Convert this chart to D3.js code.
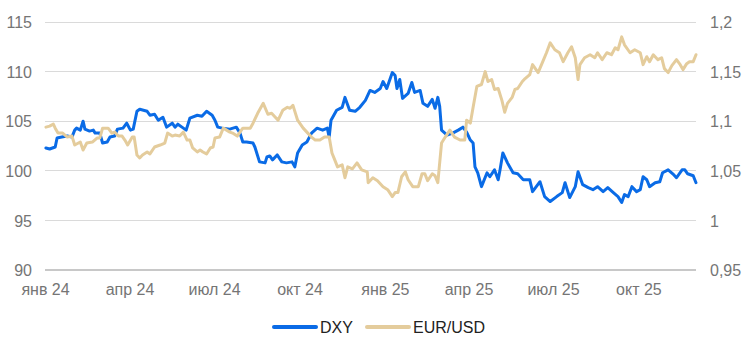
<!DOCTYPE html>
<html><head><meta charset="utf-8">
<script src="https://cdn.jsdelivr.net/npm/d3@7"></script>
<style>
html,body{margin:0;padding:0;background:#fff;}
svg{display:block;font-family:"Liberation Sans",Arial,sans-serif;}
</style></head>
<body><svg id="chart" width="746" height="355"></svg>
<script>
// ---- data ----
const seriesNames = ["DXY", "EUR/USD"];
const leftTicks = [90, 95, 100, 105, 110, 115];
const rightTicks = [0.95, 1.0, 1.05, 1.1, 1.15, 1.2];
const xTickDates = ["2024-01-01","2024-04-01","2024-07-01","2024-10-01","2025-01-01","2025-04-01","2025-07-01","2025-10-01"];
const xTickLabels = ["янв 24","апр 24","июл 24","окт 24","янв 25","апр 25","июл 25","окт 25"];
const xDomain = ["2024-01-01","2025-12-02"];

const dxyDates = ["2024-01-02","2024-01-06","2024-01-12","2024-01-14","2024-01-19","2024-01-25","2024-01-30","2024-02-02","2024-02-04","2024-02-08","2024-02-11","2024-02-13","2024-02-18","2024-02-22","2024-02-24","2024-02-29","2024-03-03","2024-03-08","2024-03-11","2024-03-16","2024-03-19","2024-03-25","2024-03-29","2024-04-02","2024-04-05","2024-04-09","2024-04-12","2024-04-20","2024-04-23","2024-04-28","2024-05-02","2024-05-07","2024-05-11","2024-05-17","2024-05-20","2024-05-23","2024-05-29","2024-06-01","2024-06-05","2024-06-13","2024-06-18","2024-06-23","2024-06-29","2024-07-02","2024-07-05","2024-07-10","2024-07-18","2024-07-25","2024-07-29","2024-08-01","2024-08-05","2024-08-12","2024-08-14","2024-08-19","2024-08-25","2024-08-27","2024-08-30","2024-09-02","2024-09-07","2024-09-12","2024-09-17","2024-09-23","2024-09-26","2024-09-29","2024-10-04","2024-10-09","2024-10-14","2024-10-20","2024-10-26","2024-10-31","2024-11-02","2024-11-04","2024-11-10","2024-11-16","2024-11-19","2024-11-24","2024-11-30","2024-12-05","2024-12-11","2024-12-16","2024-12-21","2024-12-27","2024-12-30","2025-01-03","2025-01-09","2025-01-12","2025-01-14","2025-01-17","2025-01-20","2025-01-26","2025-01-30","2025-02-02","2025-02-08","2025-02-11","2025-02-16","2025-02-21","2025-02-24","2025-02-27","2025-03-01","2025-03-03","2025-03-09","2025-03-15","2025-03-21","2025-03-26","2025-03-30","2025-04-03","2025-04-06","2025-04-08","2025-04-11","2025-04-15","2025-04-21","2025-04-24","2025-04-29","2025-05-03","2025-05-05","2025-05-08","2025-05-13","2025-05-19","2025-05-24","2025-05-30","2025-06-06","2025-06-09","2025-06-17","2025-06-22","2025-06-28","2025-07-05","2025-07-11","2025-07-14","2025-07-19","2025-07-25","2025-07-28","2025-08-02","2025-08-08","2025-08-13","2025-08-18","2025-08-24","2025-08-29","2025-09-04","2025-09-09","2025-09-13","2025-09-16","2025-09-20","2025-09-24","2025-09-29","2025-10-03","2025-10-06","2025-10-10","2025-10-13","2025-10-19","2025-10-24","2025-10-27","2025-11-02","2025-11-07","2025-11-11","2025-11-17","2025-11-20","2025-11-23","2025-11-29","2025-12-02"];
const dxyValues = [102.3,102.2,102.4,103.3,103.4,103.5,103.4,104.1,104.3,104.1,105.0,104.2,104.0,104.1,103.8,103.8,102.8,102.9,103.4,103.5,104.2,104.3,104.8,104.1,104.2,106.0,106.2,106.0,105.6,105.7,105.1,105.4,104.4,104.8,104.4,104.7,104.3,104.1,105.3,105.6,105.5,106.0,105.6,105.1,104.4,104.3,104.2,104.4,103.8,102.9,102.9,102.8,102.4,100.9,100.8,101.4,101.5,101.1,101.6,100.9,100.8,100.9,100.4,101.8,102.6,102.9,103.8,104.3,104.1,104.3,103.4,105.1,106.1,106.4,107.4,106.1,106.0,106.4,107.1,108.1,107.9,108.3,109.0,108.3,109.9,109.6,108.3,109.2,107.3,107.8,108.9,107.9,108.1,106.8,106.5,107.2,106.3,107.4,106.5,104.1,103.6,103.8,104.1,104.4,103.9,103.1,102.8,100.4,99.8,98.4,99.8,99.4,100.1,99.1,100.1,101.8,100.8,99.8,99.7,99.1,99.1,97.9,98.9,97.4,96.9,97.4,97.8,98.8,97.3,98.4,99.9,98.6,98.3,98.1,98.4,97.9,98.3,97.8,97.4,96.8,97.6,97.4,98.4,97.9,98.1,99.4,99.1,98.4,98.8,98.9,99.8,100.1,99.7,99.3,100.1,100.1,99.7,99.5,98.8];

const eurDates = ["2024-01-02","2024-01-06","2024-01-10","2024-01-12","2024-01-15","2024-01-20","2024-01-25","2024-01-30","2024-02-02","2024-02-08","2024-02-11","2024-02-15","2024-02-21","2024-02-26","2024-02-29","2024-03-03","2024-03-09","2024-03-13","2024-03-16","2024-03-20","2024-03-24","2024-03-27","2024-03-30","2024-04-04","2024-04-06","2024-04-09","2024-04-12","2024-04-15","2024-04-20","2024-04-23","2024-04-28","2024-05-04","2024-05-09","2024-05-12","2024-05-17","2024-05-20","2024-05-25","2024-05-29","2024-06-02","2024-06-05","2024-06-08","2024-06-13","2024-06-16","2024-06-19","2024-06-23","2024-06-27","2024-06-30","2024-07-02","2024-07-07","2024-07-11","2024-07-18","2024-07-21","2024-07-26","2024-07-29","2024-08-01","2024-08-09","2024-08-12","2024-08-17","2024-08-23","2024-08-28","2024-09-01","2024-09-05","2024-09-08","2024-09-13","2024-09-18","2024-09-21","2024-09-24","2024-09-29","2024-10-05","2024-10-10","2024-10-14","2024-10-18","2024-10-23","2024-10-28","2024-11-02","2024-11-05","2024-11-08","2024-11-11","2024-11-16","2024-11-19","2024-11-22","2024-11-27","2024-12-02","2024-12-07","2024-12-13","2024-12-14","2024-12-19","2024-12-24","2024-12-30","2025-01-04","2025-01-09","2025-01-12","2025-01-15","2025-01-19","2025-01-23","2025-01-26","2025-01-31","2025-02-06","2025-02-10","2025-02-13","2025-02-16","2025-02-21","2025-02-24","2025-02-27","2025-03-03","2025-03-07","2025-03-12","2025-03-17","2025-03-23","2025-03-28","2025-03-30","2025-04-03","2025-04-06","2025-04-10","2025-04-15","2025-04-19","2025-04-22","2025-04-26","2025-04-29","2025-05-03","2025-05-07","2025-05-10","2025-05-13","2025-05-18","2025-05-21","2025-05-24","2025-05-29","2025-06-01","2025-06-06","2025-06-09","2025-06-15","2025-06-20","2025-06-24","2025-06-28","2025-07-03","2025-07-08","2025-07-12","2025-07-17","2025-07-21","2025-07-25","2025-07-28","2025-07-30","2025-08-04","2025-08-10","2025-08-15","2025-08-18","2025-08-23","2025-08-28","2025-09-02","2025-09-06","2025-09-09","2025-09-13","2025-09-16","2025-09-22","2025-09-27","2025-10-03","2025-10-06","2025-10-10","2025-10-13","2025-10-17","2025-10-22","2025-10-26","2025-10-29","2025-11-02","2025-11-06","2025-11-11","2025-11-15","2025-11-18","2025-11-22","2025-11-25","2025-11-29","2025-12-02"];
const eurValues = [1.094,1.095,1.097,1.093,1.088,1.088,1.084,1.085,1.076,1.079,1.071,1.078,1.079,1.083,1.083,1.093,1.093,1.088,1.089,1.085,1.085,1.081,1.076,1.084,1.084,1.066,1.063,1.066,1.069,1.067,1.074,1.076,1.078,1.088,1.085,1.086,1.085,1.089,1.081,1.081,1.073,1.069,1.071,1.069,1.067,1.073,1.074,1.083,1.084,1.093,1.089,1.088,1.085,1.089,1.093,1.093,1.098,1.108,1.118,1.107,1.108,1.104,1.101,1.111,1.114,1.113,1.116,1.101,1.093,1.088,1.084,1.081,1.081,1.084,1.084,1.068,1.061,1.054,1.056,1.043,1.054,1.052,1.058,1.051,1.049,1.038,1.043,1.040,1.034,1.031,1.024,1.028,1.028,1.044,1.049,1.041,1.034,1.034,1.047,1.047,1.040,1.047,1.045,1.038,1.078,1.084,1.091,1.084,1.081,1.081,1.101,1.098,1.114,1.135,1.137,1.150,1.140,1.142,1.132,1.133,1.121,1.109,1.118,1.124,1.132,1.133,1.140,1.143,1.147,1.157,1.149,1.160,1.169,1.179,1.172,1.169,1.160,1.169,1.175,1.164,1.142,1.157,1.164,1.167,1.164,1.169,1.162,1.169,1.167,1.174,1.172,1.185,1.177,1.169,1.172,1.169,1.157,1.165,1.160,1.167,1.162,1.164,1.153,1.149,1.156,1.162,1.157,1.152,1.158,1.160,1.160,1.167];

// ---- chart ----
const parse = d3.utcParse("%Y-%m-%d");
const svg = d3.select("#chart");
const L = 45, R = 696, T = 22, B = 270;
const x = d3.scaleUtc().domain(xDomain.map(parse)).range([L, R]);
const yL = d3.scaleLinear().domain([90, 115]).range([B, T]);
const yR = d3.scaleLinear().domain([0.95, 1.2]).range([B, T]);
const fmtR = d => String(+d.toFixed(2)).replace(".", ",");

// grid
svg.append("g").selectAll("line").data(leftTicks).join("line")
  .attr("x1", L).attr("x2", R)
  .attr("y1", d => yL(d)).attr("y2", d => yL(d))
  .attr("stroke", d => d === 90 ? "#c8c8c8" : "#dadada")
  .attr("stroke-width", d => d === 90 ? 2 : 1)
  .attr("shape-rendering", "crispEdges");

// left axis
const gl = svg.append("g").attr("transform", `translate(${L},0)`)
  .call(d3.axisLeft(yL).tickValues(leftTicks).tickSize(0).tickPadding(13));
gl.select(".domain").remove();
gl.selectAll("text").attr("fill", "#757575").attr("font-size", 16)
  .attr("font-family", "Liberation Sans, Arial, sans-serif").attr("dy", "0.36em");

// right axis
const gr = svg.append("g").attr("transform", `translate(${R},0)`)
  .call(d3.axisRight(yR).tickValues(rightTicks).tickSize(0).tickPadding(14).tickFormat(fmtR));
gr.select(".domain").remove();
gr.selectAll("text").attr("fill", "#757575").attr("font-size", 16)
  .attr("font-family", "Liberation Sans, Arial, sans-serif").attr("dy", "0.36em");

// bottom axis
const gb = svg.append("g").attr("transform", `translate(0,${B})`)
  .call(d3.axisBottom(x).tickValues(xTickDates.map(parse)).tickSize(0).tickPadding(14)
    .tickFormat((d, i) => xTickLabels[i]));
gb.select(".domain").remove();
gb.selectAll("text").attr("fill", "#757575").attr("font-size", 16)
  .attr("font-family", "Liberation Sans, Arial, sans-serif");

// lines
const colors = ["#0a6be6", "#e4cc9c"];
const dxy = dxyDates.map((d, i) => ({ date: parse(d), v: dxyValues[i] }));
const eur = eurDates.map((d, i) => ({ date: parse(d), v: eurValues[i] }));
svg.append("path").datum(dxy)
  .attr("fill", "none").attr("stroke", colors[0]).attr("stroke-width", 3)
  .attr("stroke-linejoin", "round").attr("stroke-linecap", "round")
  .attr("d", d3.line().x(d => x(d.date)).y(d => yL(d.v)));
svg.append("path").datum(eur)
  .attr("fill", "none").attr("stroke", colors[1]).attr("stroke-width", 3)
  .attr("stroke-linejoin", "round").attr("stroke-linecap", "round")
  .attr("d", d3.line().x(d => x(d.date)).y(d => yR(d.v)));

// legend
const leg = svg.append("g").attr("transform", "translate(0,327)");
const legX = [274, 367];
seriesNames.forEach((n, i) => {
  leg.append("line").attr("x1", legX[i]).attr("x2", legX[i] + 42)
    .attr("y1", 0).attr("y2", 0).attr("stroke", colors[i]).attr("stroke-width", 4)
    .attr("stroke-linecap", "round");
  leg.append("text").attr("x", legX[i] + 46).attr("y", 0).attr("dy", "0.36em")
    .attr("font-size", 16).attr("fill", "#222").text(n);
});
</script></body></html>
